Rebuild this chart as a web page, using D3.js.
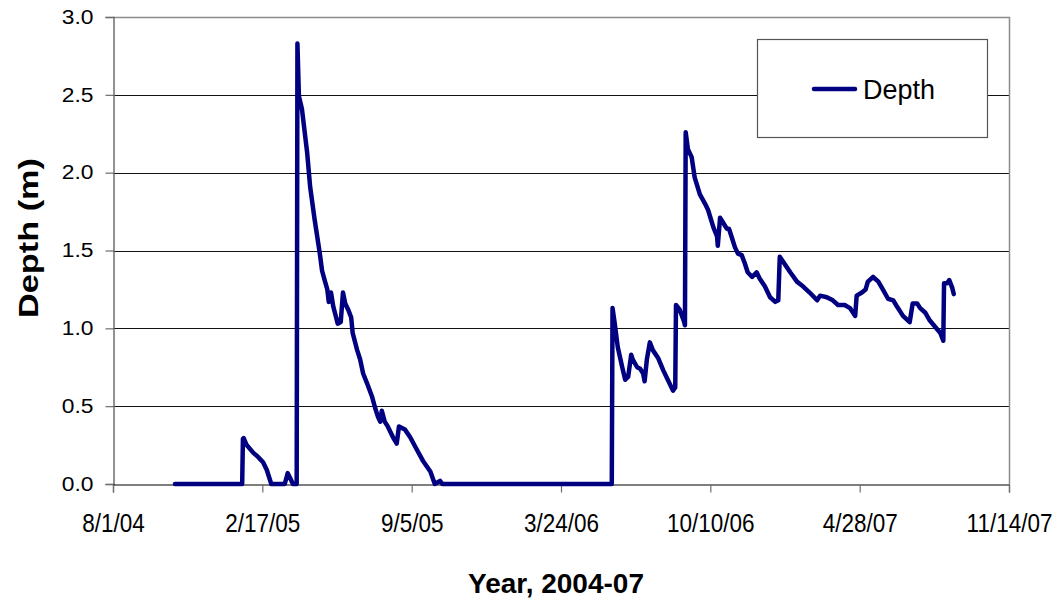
<!DOCTYPE html>
<html>
<head>
<meta charset="utf-8">
<script src="https://cdn.jsdelivr.net/npm/d3@7"></script>
<style>
  html, body { margin: 0; padding: 0; background: #fff; }
  svg { display: block; font-family: "Liberation Sans", Arial, sans-serif; }
</style>
</head>
<body>
<svg id="chart" width="1059" height="601"></svg>
<script>
// ---- data ----
const dates = [
  "2004-10-23","2005-01-21","2005-01-22","2005-01-23","2005-01-27","2005-02-05","2005-02-10","2005-02-14",
  "2005-02-18","2005-02-23","2005-03-01","2005-03-19","2005-03-23","2005-03-26","2005-03-30","2005-04-03",
  "2005-04-04","2005-04-05","2005-04-07","2005-04-11","2005-04-18","2005-04-22","2005-04-28","2005-05-05",
  "2005-05-08","2005-05-12","2005-05-15","2005-05-17","2005-05-20","2005-05-23","2005-05-29","2005-06-02",
  "2005-06-05","2005-06-08","2005-06-12","2005-06-16","2005-06-18","2005-06-24","2005-06-28","2005-07-02",
  "2005-07-07","2005-07-14","2005-07-18","2005-07-22","2005-07-25","2005-07-27","2005-07-31","2005-08-04",
  "2005-08-11","2005-08-16","2005-08-19","2005-08-27","2005-09-03","2005-09-12","2005-09-20","2005-09-30",
  "2005-10-06","2005-10-13","2005-10-16","2006-05-31","2006-06-01","2006-06-04","2006-06-08","2006-06-14",
  "2006-06-18","2006-06-22","2006-06-26","2006-06-28","2006-07-04","2006-07-08","2006-07-12","2006-07-14",
  "2006-07-17","2006-07-21","2006-07-25","2006-08-01","2006-08-08","2006-08-14","2006-08-21","2006-08-24",
  "2006-08-25","2006-08-30","2006-09-05","2006-09-06","2006-09-07","2006-09-10","2006-09-15","2006-09-19",
  "2006-09-26","2006-10-03","2006-10-07","2006-10-14","2006-10-19","2006-10-20","2006-10-23","2006-10-27",
  "2006-11-01","2006-11-04","2006-11-08","2006-11-12","2006-11-16","2006-11-21","2006-11-25","2006-11-29",
  "2006-12-05","2006-12-11","2006-12-15","2006-12-22","2006-12-29","2007-01-05","2007-01-09","2007-01-11",
  "2007-01-18","2007-01-25","2007-02-03","2007-02-11","2007-02-20","2007-03-02","2007-03-06","2007-03-15",
  "2007-03-23","2007-03-30","2007-04-08","2007-04-15","2007-04-22","2007-04-24","2007-05-01","2007-05-06",
  "2007-05-09","2007-05-16","2007-05-23","2007-05-29","2007-06-05","2007-06-12","2007-06-17","2007-06-25",
  "2007-07-04","2007-07-08","2007-07-14","2007-07-18","2007-07-25","2007-07-31","2007-08-07","2007-08-14",
  "2007-08-18","2007-08-19","2007-08-23","2007-08-26","2007-08-30","2007-09-01"
];
const depth = [
  0.00,0.00,0.29,0.295,0.25,0.20,0.18,0.16,
  0.14,0.09,0.00,0.00,0.07,0.04,0.00,0.00,
  0.00,2.83,2.49,2.41,2.13,1.91,1.70,1.48,
  1.37,1.30,1.25,1.17,1.23,1.14,1.03,1.04,
  1.23,1.16,1.12,1.07,0.97,0.86,0.80,0.71,
  0.65,0.56,0.49,0.43,0.40,0.47,0.40,0.37,
  0.30,0.26,0.37,0.35,0.30,0.22,0.15,0.08,
  0.00,0.02,0.00,0.00,1.13,1.03,0.88,0.75,
  0.67,0.69,0.83,0.80,0.75,0.74,0.71,0.66,
  0.80,0.91,0.86,0.81,0.73,0.67,0.60,0.62,
  1.15,1.12,1.04,1.02,2.26,2.15,2.10,1.97,
  1.86,1.80,1.76,1.65,1.59,1.53,1.71,1.68,
  1.64,1.64,1.58,1.52,1.48,1.47,1.42,1.36,
  1.33,1.36,1.32,1.27,1.20,1.17,1.18,1.46,
  1.41,1.36,1.30,1.27,1.23,1.18,1.21,1.20,
  1.18,1.15,1.15,1.13,1.08,1.21,1.23,1.25,
  1.30,1.33,1.30,1.25,1.19,1.18,1.14,1.08,
  1.04,1.16,1.16,1.13,1.10,1.05,1.01,0.97,
  0.92,1.29,1.29,1.31,1.26,1.22
];
const xTickLabels = ["2004-08-01","2005-02-17","2005-09-05","2006-03-24","2006-10-10","2007-04-28","2007-11-14"];
const yTicks = [0, 0.5, 1.0, 1.5, 2.0, 2.5, 3.0];
const seriesName = "Depth";
const xTitle = "Year, 2004-07";
const yTitle = "Depth (m)";

// ---- layout ----
const plotL = 113, plotR = 1009, plotT = 17, plotB = 484;
const parse = d3.utcParse("%Y-%m-%d");
const fmt = d3.utcFormat("%-m/%-d/%y");
const data = dates.map((d, i) => ({ date: parse(d), v: depth[i] }));

const x = d3.scaleUtc()
  .domain([parse(xTickLabels[0]), parse(xTickLabels[xTickLabels.length - 1])])
  .range([plotL, plotR]);
const y = d3.scaleLinear().domain([0, 3]).range([plotB, plotT]);

const svg = d3.select("#chart");

// gridlines
svg.append("g")
  .selectAll("line")
  .data(yTicks.filter(t => t > 0 && t < 3))
  .join("line")
  .attr("x1", plotL).attr("x2", plotR)
  .attr("y1", d => Math.round(y(d)) + 0.5).attr("y2", d => Math.round(y(d)) + 0.5)
  .attr("stroke", "#111").attr("stroke-width", 1);

// plot border top & right
svg.append("path")
  .attr("d", `M${plotL},${plotT + 0.5}H${plotR + 0.5}V${plotB}`)
  .attr("fill", "none").attr("stroke", "#8c8c8c").attr("stroke-width", 1.5);

// y axis
const yAxis = svg.append("g")
  .attr("transform", `translate(${plotL + 0.5},0)`)
  .call(d3.axisLeft(y).tickValues(yTicks).tickFormat(d3.format(".1f")).tickSize(8).tickPadding(12));
yAxis.select(".domain").attr("stroke", "#6e6e6e").attr("stroke-width", 1.5);
yAxis.selectAll(".tick line").attr("stroke", "#6e6e6e").attr("stroke-width", 1.2);
yAxis.selectAll(".tick text")
  .attr("font-size", 19.5).attr("fill", "#000")
  .attr("font-family", "Liberation Sans, Arial, sans-serif")
  .each(function () {
    const w = this.getComputedTextLength();
    d3.select(this).attr("textLength", w * 1.17).attr("lengthAdjust", "spacingAndGlyphs");
  });

// x axis
const xLabelStretch = 1.13;
const xAxis = svg.append("g")
  .attr("transform", `translate(0,${plotB + 0.5})`)
  .call(d3.axisBottom(x).tickValues(xTickLabels.map(parse)).tickFormat(fmt).tickSize(8).tickPadding(21));
xAxis.select(".domain").attr("stroke", "#000").attr("stroke-width", 1.2);
xAxis.selectAll(".tick line").attr("stroke", "#6e6e6e").attr("stroke-width", 1.2);
xAxis.selectAll(".tick text")
  .attr("font-size", 22.5).attr("fill", "#000")
  .attr("font-family", "Liberation Sans, Arial, sans-serif")
  .attr("y", 29.5 / xLabelStretch)
  .attr("transform", `scale(1,${xLabelStretch})`);

// data line
const line = d3.line().x(d => x(d.date)).y(d => y(d.v));
svg.append("path")
  .datum(data)
  .attr("d", line)
  .attr("fill", "none")
  .attr("stroke", "#000080")
  .attr("stroke-width", 4.5)
  .attr("stroke-linejoin", "round")
  .attr("stroke-linecap", "round");

// legend
const lg = svg.append("g");
lg.append("rect")
  .attr("x", 757.5).attr("y", 39.5).attr("width", 230).attr("height", 98)
  .attr("fill", "#fff").attr("stroke", "#555").attr("stroke-width", 1.2);
lg.append("line")
  .attr("x1", 814).attr("x2", 855).attr("y1", 89).attr("y2", 89)
  .attr("stroke", "#000080").attr("stroke-width", 4.5).attr("stroke-linecap", "round");
lg.append("text")
  .attr("x", 863).attr("y", 99)
  .attr("font-size", 27).attr("fill", "#000")
  .text(seriesName);

// axis titles
svg.append("text")
  .attr("x", 556).attr("y", 593)
  .attr("text-anchor", "middle")
  .attr("font-size", 28).attr("font-weight", "bold")
  .text(xTitle);
svg.append("text")
  .attr("transform", "translate(38,238) rotate(-90)")
  .attr("text-anchor", "middle")
  .attr("font-size", 28).attr("font-weight", "bold")
  .attr("textLength", 160).attr("lengthAdjust", "spacingAndGlyphs")
  .text(yTitle);
</script>
</body>
</html>
